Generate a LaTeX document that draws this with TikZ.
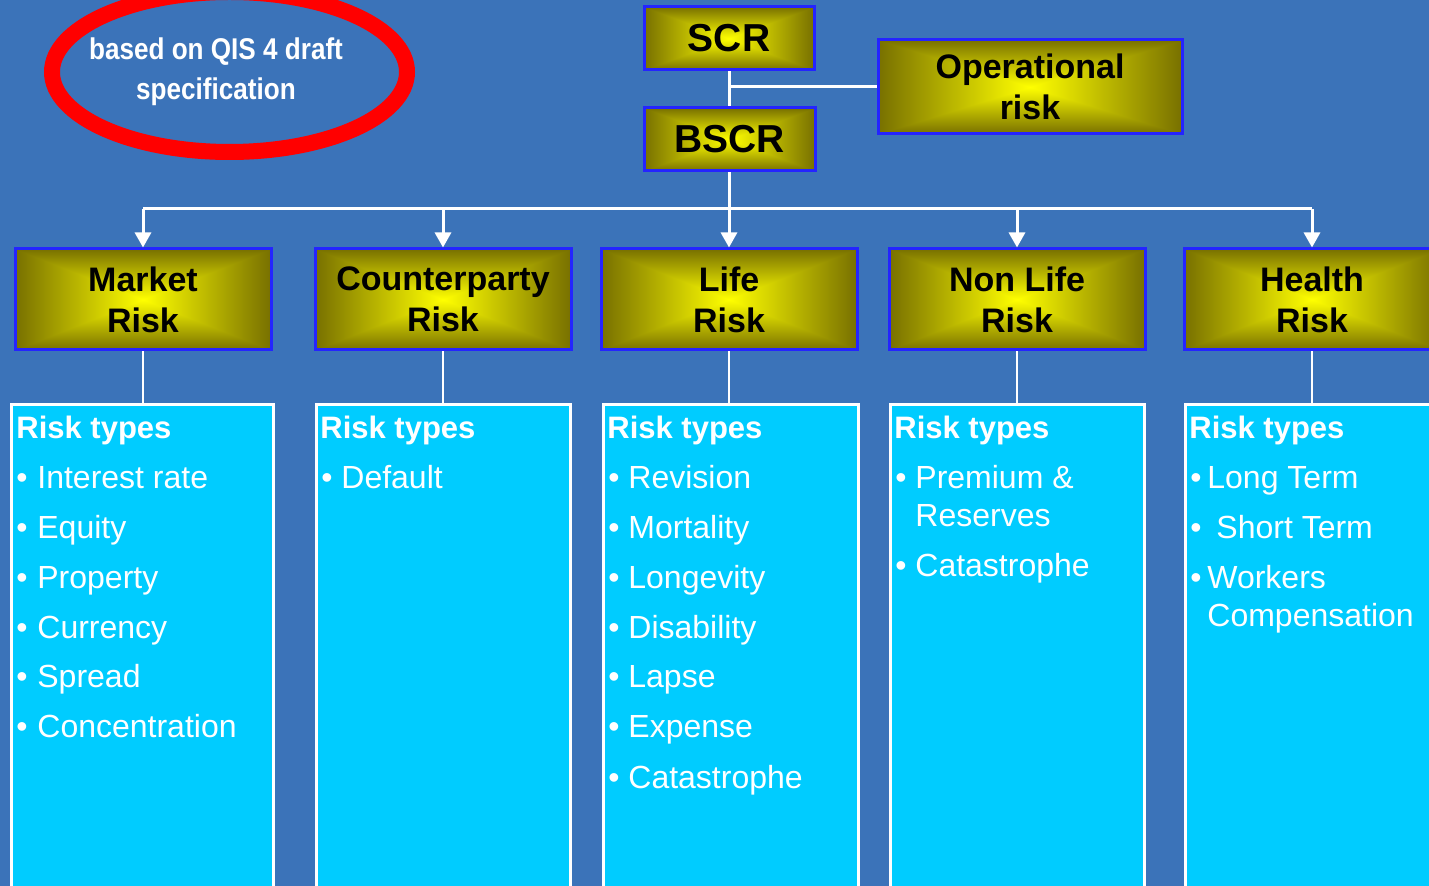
\documentclass[tikz,border=0pt]{standalone}
\usepackage{fontspec}
\setmainfont{Liberation Sans}
\newfontfamily\narrowfont[FakeStretch=0.87]{Liberation Sans}
\usetikzlibrary{arrows.meta}

\definecolor{slideblue}{RGB}{59,115,185}
\definecolor{listcyan}{RGB}{0,204,255}
\definecolor{boxblue}{RGB}{36,36,255}
\definecolor{ovalred}{RGB}{255,0,0}

% yellow glow from the centre, fading to olive at the edges of a rectangle
\pgfdeclarefunctionalshading{rectglow}{\pgfpoint{0bp}{0bp}}{\pgfpoint{100bp}{100bp}}{}{
  50 sub abs exch 50 sub abs 2 copy lt {exch} if pop
  25 div dup 1 gt {pop 1} if
  dup 0.53 mul 1 exch sub exch 0.56 mul 1 exch sub 0
}

\newcommand\riskitem[5]{% name, box left, baseline, text offset, text
  \node[item] (#1b) at (#2+6,#3) {\textbullet};
  \node[item] (#1) at (#2+#4,#3) {#5};
}
\newcommand\riskcont[4]{% name, box left, baseline, text (continuation line)
  \node[item] (#1) at (#2+26,#3) {#4};
}

\begin{document}
\begin{tikzpicture}[
  x=0.5pt, y=-0.5pt,
  topbox/.style={draw=boxblue, line width=1.5pt, shading=rectglow, inner sep=0pt,
    align=center, font=\bfseries\fontsize{17}{20.5}\selectfont, text=black},
  bigbox/.style={topbox, font=\bfseries\fontsize{19.5}{23}\selectfont},
  listbox/.style={draw=white, line width=1.5pt, fill=listcyan, inner sep=0pt},
  wire/.style={draw=white, line width=1.5pt},
  arrowwire/.style={wire, -{Triangle[width=8pt,length=7.5pt]}},
  head/.style={anchor=base west, text=white, inner sep=0pt,
    font=\bfseries\fontsize{15.5}{18}\selectfont},
  item/.style={anchor=base west, text=white, inner sep=0pt,
    font=\fontsize{16}{19}\selectfont},
]
\useasboundingbox (0,0) rectangle (1429,886);
\clip (0,0) rectangle (1429,886);
\fill[slideblue] (0,0) rectangle (1429,886);

% note in the red oval
\draw[ovalred, line width=8pt] (229.5,72) ellipse [x radius=177.5, y radius=80];
\node[text=white, align=center, inner sep=0pt,
  font=\narrowfont\bfseries\fontsize{15}{20}\selectfont] (note) at (216,72)
  {based on QIS 4 draft\\specification};

% top of the tree
\node[bigbox, minimum width=170*0.5pt, minimum height=63*0.5pt] (scr) at (729,38.5) {\raisebox{-1pt}{SCR}};
\node[bigbox, minimum width=171*0.5pt, minimum height=63*0.5pt] (bscr) at (729.5,139.5) {\raisebox{-1pt}{BSCR}};
\node[topbox, minimum width=304*0.5pt, minimum height=94*0.5pt] (op) at (1030,87) {Operational\\risk};

\draw[wire] (scr.south) -- (scr.south |- bscr.north);
\draw[wire] (scr.south |- op.west) -- (op.west);

% risk modules
\foreach \nm/\cx/\txt in {mk/143/Market, cp/443/Counterparty, lf/729/Life, nl/1017/Non Life, hl/1312/Health}
  \node[topbox, minimum width=256*0.5pt, minimum height=101*0.5pt] (\nm) at (\cx,299.5) {\txt\\Risk};

\coordinate (busL) at (143,209);
\coordinate (busR) at (1312,209);
\draw[wire] (bscr.south) -- (bscr.south |- busL);
\draw[wire] (busL) -- (busR);
\foreach \nm in {mk,cp,lf,nl,hl}
  \draw[arrowwire] (\nm.north |- busL) -- (\nm.north);

% lists of risk types
\node[listbox, minimum width=262*0.5pt, minimum height=520*0.5pt, anchor=north west] (mkl) at (10,403) {};
\node[listbox, minimum width=254*0.5pt, minimum height=520*0.5pt, anchor=north west] (cpl) at (315,403) {};
\node[listbox, minimum width=255*0.5pt, minimum height=520*0.5pt, anchor=north west] (lfl) at (602,403) {};
\node[listbox, minimum width=254*0.5pt, minimum height=520*0.5pt, anchor=north west] (nll) at (889,403) {};
\node[listbox, minimum width=256*0.5pt, minimum height=520*0.5pt, anchor=north west] (hll) at (1184,403) {};

\foreach \nm in {mk,cp,lf,nl,hl}
  \draw[wire, line width=1pt] (\nm.south) -- (\nm.south |- \nm l.north);

% Market
\node[head] (mkh) at (16,439) {Risk types};
\riskitem{mk1}{10}{489}{27}{Interest rate}
\riskitem{mk2}{10}{539}{27}{Equity}
\riskitem{mk3}{10}{589}{27}{Property}
\riskitem{mk4}{10}{639}{27}{Currency}
\riskitem{mk5}{10}{688}{27}{Spread}
\riskitem{mk6}{10}{738}{27}{Concentration}

% Counterparty
\node[head] (cph) at (320,439) {Risk types};
\riskitem{cp1}{315}{489}{26}{Default}

% Life
\node[head] (lfh) at (607,439) {Risk types};
\riskitem{lf1}{602}{489}{26}{Revision}
\riskitem{lf2}{602}{539}{26}{Mortality}
\riskitem{lf3}{602}{589}{26}{Longevity}
\riskitem{lf4}{602}{639}{26}{Disability}
\riskitem{lf5}{602}{688}{26}{Lapse}
\riskitem{lf6}{602}{738}{26}{Expense}
\riskitem{lf7}{602}{788}{26}{Catastrophe}

% Non Life
\node[head] (nlh) at (894,439) {Risk types};
\riskitem{nl1}{889}{489}{26}{Premium \&}
\riskcont{nl1c}{889}{527}{Reserves}
\riskitem{nl2}{889}{577}{26}{Catastrophe}

% Health
\node[head] (hlh) at (1189,439) {Risk types};
\riskitem{hl1}{1184}{489}{23}{Long Term}
\riskitem{hl2}{1184}{539}{32}{Short Term}
\riskitem{hl3}{1184}{589}{23}{Workers}
\node[item] (hl3c) at (1207,627) {Compensation};
\end{tikzpicture}
\end{document}
